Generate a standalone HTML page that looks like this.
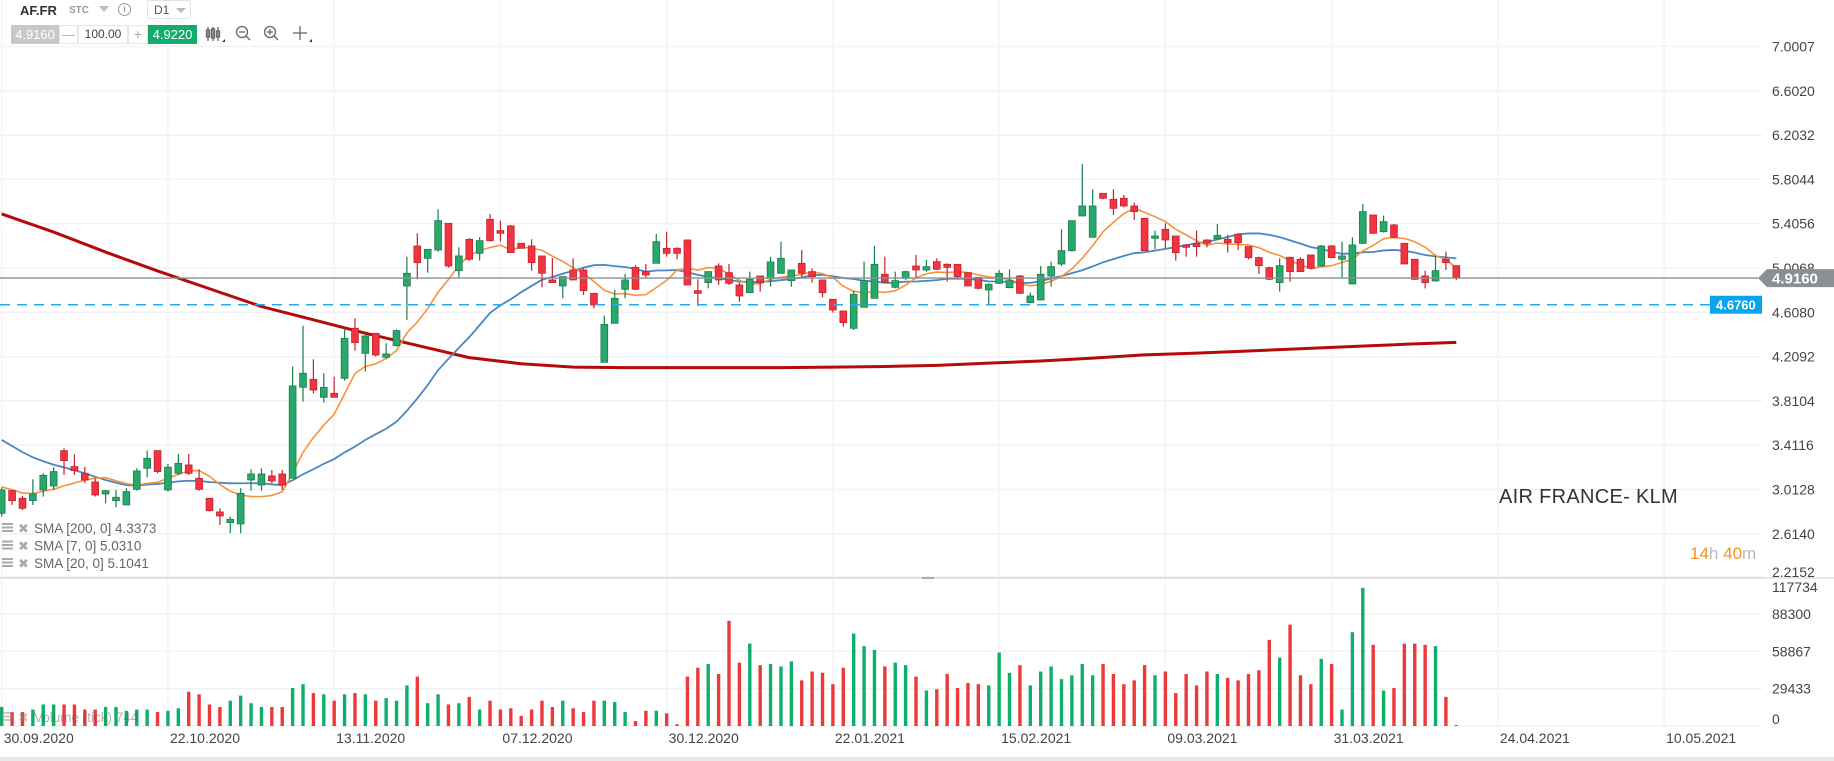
<!DOCTYPE html>
<html><head><meta charset="utf-8">
<style>
body{margin:0;background:#fff;width:1834px;height:761px;overflow:hidden;font-family:"Liberation Sans",sans-serif;}
#wrap{position:relative;width:1834px;height:761px;}
svg{position:absolute;left:0;top:0;}
.hd{position:absolute;font-size:12px;}
</style></head>
<body>
<div id="wrap">
<svg id="chart" width="1834" height="761"></svg>

<div class="hd" style="left:20px;top:3px;font-size:13px;font-weight:bold;color:#333;">AF.FR</div>
<div class="hd" style="left:69px;top:5px;font-size:10px;font-weight:bold;color:#999;">STC</div>
<div class="hd" style="left:99px;top:6px;width:0;height:0;border-left:5px solid transparent;border-right:5px solid transparent;border-top:6px solid #bbb;"></div>
<div class="hd" style="left:118px;top:3px;width:11px;height:11px;border:1.5px solid #999;border-radius:50%;font-size:9px;line-height:11px;text-align:center;color:#999;font-weight:bold;">i</div>
<div class="hd" style="left:147px;top:0px;width:44px;height:19px;border:1px solid #e3e3e3;border-radius:3px;font-size:12px;line-height:19px;color:#555;box-sizing:border-box;padding-left:6px;">D1<span style="position:absolute;left:28px;top:7px;border-left:5px solid transparent;border-right:5px solid transparent;border-top:5px solid #bbb;"></span></div>
<div class="hd" style="left:11px;top:25px;width:48px;height:19px;background:#c8c8c8;color:#fff;font-size:13px;line-height:19px;text-align:center;">4.9160</div>
<div class="hd" style="left:59px;top:25px;width:19px;height:19px;border:1px solid #e6e6e6;box-sizing:border-box;color:#aaa;font-size:13px;line-height:17px;text-align:center;">—</div>
<div class="hd" style="left:78px;top:25px;width:50px;height:19px;border:1px solid #e6e6e6;box-sizing:border-box;color:#444;font-size:12px;line-height:17px;text-align:center;">100.00</div>
<div class="hd" style="left:128px;top:25px;width:20px;height:19px;border:1px solid #e6e6e6;box-sizing:border-box;color:#aaa;font-size:14px;line-height:17px;text-align:center;">+</div>
<div class="hd" style="left:148px;top:25px;width:49px;height:19px;background:#14ac6c;color:#fff;font-size:13px;line-height:19px;text-align:center;">4.9220</div>
<svg width="120" height="24" style="left:204px;top:24px;">
 <g stroke="#666" stroke-width="1.3" fill="none">
  <g><line x1="4" y1="3" x2="4" y2="17"/><rect x="2.5" y="6" width="3" height="7"/><line x1="9" y1="3" x2="9" y2="17"/><rect x="7.5" y="5" width="3" height="9"/><line x1="14" y1="3" x2="14" y2="17"/><rect x="12.5" y="7" width="3" height="6"/></g>
  <g><circle cx="38" cy="8" r="5.5"/><line x1="35" y1="8" x2="41" y2="8"/><line x1="42" y1="12" x2="46" y2="16"/></g>
  <g><circle cx="66" cy="8" r="5.5"/><line x1="63" y1="8" x2="69" y2="8"/><line x1="66" y1="5" x2="66" y2="11"/><line x1="70" y1="12" x2="74" y2="16"/></g>
  <g><line x1="96" y1="2" x2="96" y2="16"/><line x1="89" y1="9" x2="103" y2="9"/></g>
 </g>
 <polygon points="18,18 21,18 21,15" fill="#333"/><polygon points="105,18 108,18 108,15" fill="#333"/>
</svg>
</div>
<script>
const priceTicks=[7.0007,6.6020,6.2032,5.8044,5.4056,5.0068,4.6080,4.2092,3.8104,3.4116,3.0128,2.6140,2.2152];
const volTicks=[117734,88300,58867,29433,0];
const dateLabels=["30.09.2020","22.10.2020","13.11.2020","07.12.2020","30.12.2020","22.01.2021","15.02.2021","09.03.2021","31.03.2021","24.04.2021","10.05.2021"];
const dateIdx=[0,16,32,48,64,80,96,112,128,144,160];
const opens=[2.799,3.003,2.934,2.913,3.009,3.045,3.363,3.219,3.159,3.081,2.973,2.913,2.874,3.015,3.204,3.363,3.009,3.159,3.234,3.114,2.934,2.811,2.715,2.703,3.099,3.054,3.135,3.153,3.114,3.933,4.005,3.843,3.879,4.014,4.464,4.239,4.419,4.203,4.308,4.845,5.205,5.094,5.169,5.409,4.983,5.265,5.139,5.445,5.343,5.385,5.229,5.205,5.115,4.899,4.845,4.989,4.989,4.779,4.158,4.509,4.815,5.013,4.974,5.049,5.184,5.184,5.259,4.803,4.875,5.025,4.965,4.854,4.785,4.935,4.914,4.959,4.893,5.049,4.974,4.899,4.725,4.62,4.464,4.653,4.734,4.95,4.833,4.914,5.025,4.989,5.064,5.04,5.04,4.965,4.923,4.809,4.869,4.83,4.935,4.695,4.719,4.935,5.043,5.163,5.475,5.283,5.679,5.625,5.634,5.565,5.454,5.274,5.355,5.295,5.214,5.229,5.259,5.271,5.265,5.31,5.199,5.1,5.01,4.875,5.103,5.085,5.124,5.025,5.205,5.085,4.863,5.229,5.484,5.334,5.394,5.229,5.085,4.935,4.89,5.085,5.028];
const highs=[3.03,3.01,2.955,3.105,3.159,3.213,3.384,3.33,3.219,3.114,3.009,3.009,3.024,3.204,3.363,3.363,3.243,3.333,3.333,3.195,2.934,2.844,2.769,3.024,3.195,3.204,3.189,3.189,4.119,4.488,4.185,4.059,4.029,4.464,4.554,4.419,4.419,4.329,4.455,5.109,5.319,5.175,5.535,5.409,5.193,5.274,5.283,5.493,5.433,5.394,5.229,5.265,5.115,5.094,4.929,5.094,5.004,4.779,4.578,4.809,4.953,5.034,5.043,5.313,5.334,5.193,5.259,4.905,4.974,5.049,5.043,4.875,4.974,4.935,5.109,5.244,4.989,5.169,5.004,4.899,4.725,4.62,4.803,5.064,5.205,5.109,4.974,4.983,5.124,5.079,5.094,5.049,5.04,4.965,4.923,4.869,4.989,4.995,4.944,4.785,5.025,5.064,5.355,5.433,5.943,5.715,5.679,5.715,5.664,5.595,5.454,5.343,5.409,5.295,5.223,5.343,5.265,5.403,5.304,5.319,5.199,5.109,5.019,5.094,5.109,5.103,5.124,5.214,5.214,5.244,5.283,5.583,5.484,5.478,5.403,5.229,5.085,4.983,5.115,5.154,5.028];
const lows=[2.77,2.874,2.829,2.874,2.949,3.009,3.144,3.144,3.069,2.949,2.889,2.853,2.874,3.003,3.123,3.159,2.994,3.144,3.144,3.003,2.814,2.694,2.619,2.619,3.003,3.003,3.069,3.009,3.114,3.804,3.879,3.795,3.843,3.993,4.263,4.074,4.209,4.194,4.299,4.539,4.905,4.965,5.154,5.01,4.923,5.073,5.073,5.244,5.244,5.145,5.184,4.983,4.833,4.875,4.734,4.899,4.764,4.644,4.158,4.509,4.734,4.809,4.923,5.049,5.109,5.085,4.854,4.665,4.824,4.854,4.854,4.704,4.785,4.794,4.839,4.959,4.839,4.914,4.875,4.743,4.605,4.479,4.449,4.653,4.734,4.878,4.824,4.899,4.923,4.974,4.989,4.884,4.914,4.845,4.815,4.674,4.863,4.824,4.773,4.689,4.719,4.839,5.025,5.154,5.475,5.283,5.625,5.484,5.553,5.439,5.163,5.175,5.184,5.073,5.109,5.109,5.193,5.259,5.145,5.169,5.085,4.953,4.899,4.794,4.884,4.974,4.995,5.019,5.094,4.914,4.863,5.223,5.313,5.325,5.274,5.043,4.899,4.824,4.884,4.989,4.899];
const closes=[3.009,2.913,2.844,2.973,3.141,3.174,3.273,3.183,3.099,2.964,3.003,2.943,2.994,3.18,3.294,3.174,3.213,3.249,3.159,3.015,2.823,2.775,2.745,2.979,3.153,3.153,3.09,3.054,3.945,4.059,3.909,3.933,3.843,4.374,4.335,4.395,4.224,4.233,4.443,4.959,5.055,5.175,5.433,5.025,5.115,5.085,5.253,5.253,5.319,5.145,5.184,5.055,4.959,4.875,4.929,4.899,4.803,4.674,4.50,4.734,4.899,4.815,4.944,5.244,5.139,5.139,4.854,4.779,4.974,4.899,4.869,4.755,4.905,4.875,5.061,5.094,4.989,4.959,4.929,4.785,4.629,4.515,4.77,4.893,5.04,4.878,4.893,4.974,4.989,5.019,4.995,5.013,4.929,4.845,4.824,4.86,4.959,4.893,4.779,4.755,4.95,5.019,5.163,5.433,5.565,5.565,5.634,5.544,5.565,5.514,5.163,5.295,5.259,5.145,5.193,5.199,5.229,5.301,5.235,5.235,5.1,5.028,4.905,5.028,4.974,4.974,5.004,5.205,5.1,5.115,5.214,5.514,5.319,5.424,5.283,5.043,4.905,4.875,4.983,5.055,4.916];
const priorCloses=[4.0,3.95,3.9,3.85,3.8,3.75,3.7,3.65,3.6,3.57,3.45,3.4,3.3,3.1,3.05,3.0,3.0,3.05,3.05];
const volumes=[15000,11000,11000,13000,17000,17000,17000,17000,13000,13000,15000,15000,12000,13000,13000,11000,12000,14000,27000,25000,17000,15000,20000,24000,18000,15000,15000,15000,30000,33000,26000,25000,20000,25000,26000,25000,20000,22000,20000,32000,39000,18000,25000,17000,18000,23000,13000,20000,13000,14000,8000,13000,20000,15000,20000,14000,11000,20000,20000,19000,
11000,4000,12000,12000,10000,1300,39000,46000,49000,41000,83000,50000,65000,48000,49000,47000,51000,36000,43000,42000,33000,46000,73000,63000,60000,47000,50000,48000,39000,28000,29000,41000,30000,34000,33000,32000,58000,42000,48000,
32000,43000,47000,37000,40000,49000,40000,49000,41000,33000,36000,48000,40000,43000,26000,41000,32000,43000,41000,38000,36000,41000,44000,68000,54000,80000,40000,33000,53000,49000,13000,74000,109000,64000,28000,30000,65000,65000,64000,63000,23000,744];
const sma200Idx=[0,5,10,15,20,25,30,35,40,45,50,55,60,65,70,75,80,85,90,95,100,105,110,115,120,125,130,135,140];
const sma200Val=[5.493,5.33,5.15,4.98,4.82,4.66,4.54,4.42,4.31,4.20,4.145,4.115,4.11,4.11,4.11,4.11,4.115,4.12,4.13,4.15,4.17,4.195,4.225,4.24,4.26,4.28,4.30,4.32,4.337];
const lastPrice=4.916, alertPrice=4.676;

const NS="http://www.w3.org/2000/svg";
const svg=document.getElementById('chart');
const X=i=>1.7+10.39*i;
const YP=p=>312.3-(p-4.608)*111.1;
const YV=v=>726-v*37.3/29433;
const PLOT_R=1762;
function mk(tag,attrs,parent){const e=document.createElementNS(NS,tag);for(const k in attrs)e.setAttribute(k,attrs[k]);(parent||svg).appendChild(e);return e;}

const grid=mk('g',{});


priceTicks.forEach(t=>{mk('line',{x1:0,x2:PLOT_R,y1:YP(t),y2:YP(t),stroke:'#f1f2f3','stroke-width':1.5},grid);});
volTicks.forEach(t=>{mk('line',{x1:0,x2:PLOT_R,y1:YV(t),y2:YV(t),stroke:'#f1f2f3','stroke-width':1.5},grid);});
dateIdx.forEach(d=>{mk('line',{x1:X(d),x2:X(d),y1:0,y2:728,stroke:'#f3f4f5','stroke-width':1.5},grid);});
const sep=mk('line',{x1:0,x2:1834,y1:578,y2:578,stroke:'#d8d8d8','stroke-width':1.2});


const sepHandle=mk('rect',{x:922,y:577,width:12,height:2,fill:'#aaa'});



const pAxis=mk('g',{});


priceTicks.forEach(t=>{const tx=mk('text',{x:1772,y:Math.min(YP(t),572)+5,'font-size':14,fill:'#444','font-family':'Liberation Sans, sans-serif'},pAxis);tx.textContent=t.toFixed(4);

});
const vAxis=mk('g',{});


volTicks.forEach(t=>{let y=YV(t);y=Math.max(587,Math.min(719,y));const tx=mk('text',{x:1772,y:y+5,'font-size':14,fill:'#444','font-family':'Liberation Sans, sans-serif'},vAxis);tx.textContent=String(t);

});
const dAxis=mk('g',{});


dateLabels.forEach((d,k)=>{const tx=mk('text',{x:X(dateIdx[k])+2,y:743,'font-size':14,fill:'#444','font-family':'Liberation Sans, sans-serif'},dAxis);tx.textContent=d;

});
const strip=mk('rect',{x:0,y:757,width:1834,height:4,fill:'#e6e8eb'});



const vg=mk('g',{});


volumes.forEach((v,i)=>{const up=closes[i]>=opens[i];const y=YV(v);const r=mk('rect',{x:X(i)-1.7,y:y,width:3.4,height:Math.max(726-y,0.8),fill:up?'#0eaf6a':'#ec3a3a'},vg);

});

const s200=mk('polyline',{points:sma200Idx.map((d,k)=>X(d)+','+YP(sma200Val[k])).join(' '),fill:'none',stroke:'#b50a0a','stroke-width':3,'stroke-linejoin':'round'});


const all=priorCloses.concat(closes);const off=priorCloses.length;
function sma(n){const pts=[];for(let i=0;i<closes.length;i++){const j=i+off;if(j-n+1<0)continue;let s=0;for(let k=j-n+1;k<=j;k++)s+=all[k];pts.push(X(i)+','+YP(s/n));}return pts.join(' ');}
const s20=mk('polyline',{points:sma(20),fill:'none',stroke:'#4a86bf','stroke-width':1.8});


const s7=mk('polyline',{points:sma(7),fill:'none',stroke:'#f7923a','stroke-width':1.6});



const cg=mk('g',{});


closes.forEach((c,i)=>{const o=opens[i];const up=c>=o;const fill=up?'#28a96b':'#f23440';const st=up?'#1b7c4d':'#c2232e';
const g=mk('g',{},cg);


mk('line',{x1:X(i),x2:X(i),y1:YP(highs[i]),y2:YP(lows[i]),stroke:st,'stroke-width':1.2},g);
const top=YP(Math.max(o,c)),bot=YP(Math.min(o,c));
mk('rect',{x:X(i)-3.4,y:top,width:6.8,height:Math.max(bot-top,1.2),fill:fill,stroke:st,'stroke-width':0.8},g);});

const lp=mk('line',{x1:0,x2:1758,y1:YP(lastPrice),y2:YP(lastPrice),stroke:'#8a8f93','stroke-width':1.3});


const al=mk('line',{x1:0,x2:1710,y1:YP(alertPrice),y2:YP(alertPrice),stroke:'#2aa8ea','stroke-width':1.4,'stroke-dasharray':'10,7'});


const lpy=YP(lastPrice);
const lpb=mk('polygon',{points:`1758,${lpy} 1767,${lpy-9} 1834,${lpy-9} 1834,${lpy+9} 1767,${lpy+9}`,fill:'#8a8f93'});


const lpt=mk('text',{x:1772,y:lpy+5.5,'font-size':15,'font-weight':'bold',fill:'#fff','font-family':'Liberation Sans, sans-serif'});lpt.textContent=lastPrice.toFixed(4);


const apy=YP(alertPrice);
const apb=mk('rect',{x:1710,y:apy-9,width:52,height:18,fill:'#0aa4ee'});


const apt=mk('text',{x:1716,y:apy+5,'font-size':13,'font-weight':'bold',fill:'#fff','font-family':'Liberation Sans, sans-serif'});apt.textContent=alertPrice.toFixed(4);



const legends=["SMA [200, 0] 4.3373","SMA [7, 0] 5.0310","SMA [20, 0] 5.1041"];
legends.forEach((t,k)=>{const y=528+k*17.5;const g=mk('g',{});


for(let r=0;r<3;r++)mk('rect',{x:2,y:y-5+r*3.5,width:11,height:2,fill:'#aaa'},g);
const x=mk('text',{x:18,y:y+5,'font-size':13,'font-weight':'bold',fill:'#aaa','font-family':'DejaVu Sans, sans-serif'},g);x.textContent='✖';
const tx=mk('text',{x:34,y:y+5,'font-size':13.5,fill:'#666','font-family':'Liberation Sans, sans-serif'},g);tx.textContent=t;});
const vl=mk('g',{opacity:0.45});


for(let r=0;r<3;r++)mk('rect',{x:2,y:712+r*3.5,width:11,height:2,fill:'#888'},vl);
const vlx=mk('text',{x:18,y:722,'font-size':13,fill:'#888','font-family':'DejaVu Sans, sans-serif'},vl);vlx.textContent='✖';
const vlt=mk('text',{x:34,y:722,'font-size':13.5,fill:'#555','font-family':'Liberation Sans, sans-serif'},vl);vlt.textContent='Volume (tick) 744';

const title=mk('text',{x:1499,y:503,'font-size':20,fill:'#333','font-family':'Liberation Sans, sans-serif','letter-spacing':'0.3'});title.textContent='AIR FRANCE- KLM';


const cd=mk('text',{x:1690,y:559,'font-size':17,'font-family':'Liberation Sans, sans-serif'});


[['14','#f7931e'],['h ','#bbb'],['40','#f7931e'],['m','#bbb']].forEach(([s,c])=>{const ts=mk('tspan',{fill:c},cd);ts.textContent=s;});
</script>
</body></html>
